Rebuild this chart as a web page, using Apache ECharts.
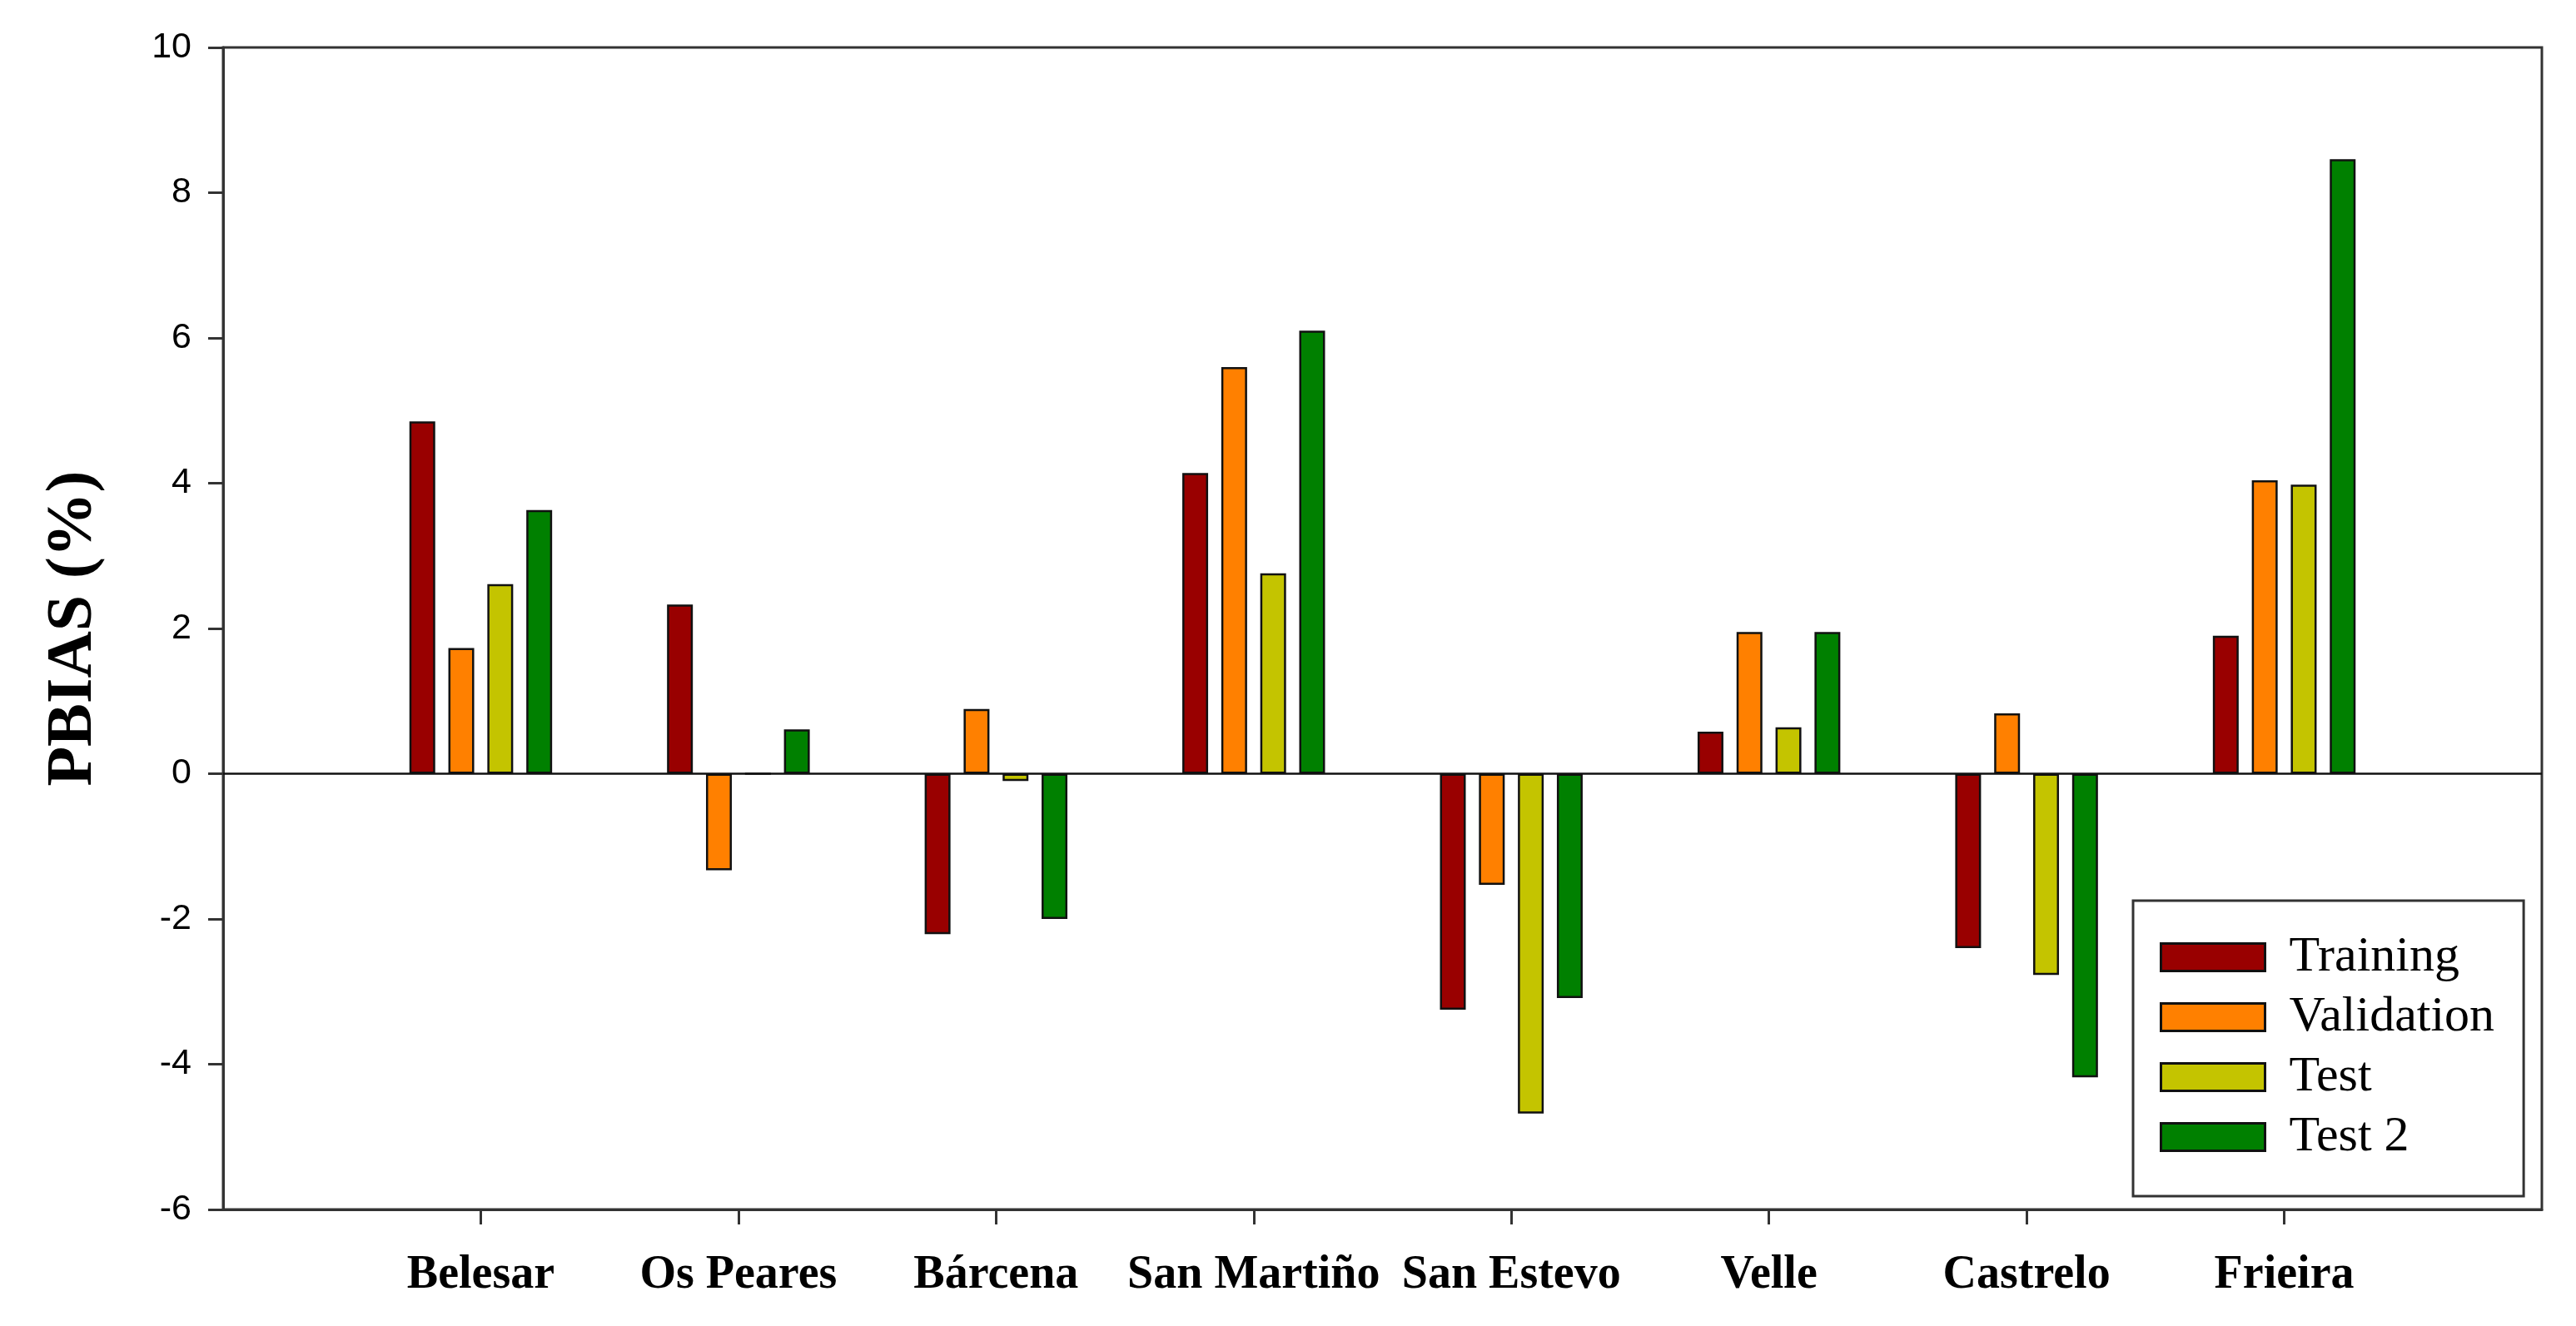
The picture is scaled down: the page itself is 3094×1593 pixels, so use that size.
<!DOCTYPE html>
<html>
<head>
<meta charset="utf-8">
<script src="https://cdn.jsdelivr.net/npm/echarts@6/dist/echarts.min.js"></script>
<style>
html,body{margin:0;padding:0;background:#fff;}
#chart{width:3094px;height:1593px;}
</style>
</head>
<body>
<div id="chart"></div>
<script>
const stations = ['Belesar', 'Os Peares', 'Bárcena', 'San Martiño', 'San Estevo', 'Velle', 'Castrelo', 'Frieira'];
const seriesNames = ['Training', 'Validation', 'Test', 'Test 2'];
const training   = [4.85, 2.33, -2.21, 4.14, -3.25, 0.58, -2.40, 1.90];
const validation = [1.73, -1.33, 0.89, 5.60, -1.53, 1.95, 0.83, 4.04];
const test       = [2.61, 0.00, -0.10, 2.76, -4.68, 0.64, -2.77, 3.98];
const test2      = [3.63, 0.61, -2.00, 6.10, -3.09, 1.95, -4.18, 8.46];
const yTicks = { min: -6, max: 10, interval: 2 };
const colors = ['#990000', '#FF8000', '#C4C400', '#008000'];

const pad = arr => [null].concat(arr, [null]);
const cats = [''].concat(stations, ['']);
const values = [training, validation, test, test2];

const chart = echarts.init(document.getElementById('chart'), null, { renderer: 'canvas' });
const series = values.map((v, i) => ({
  name: seriesNames[i],
  type: 'bar',
  data: pad(v),
  barWidth: 31,
  barGap: '51%',
  itemStyle: { color: colors[i], borderColor: '#111', borderWidth: 2.5 },
  emphasis: { disabled: true },
  markLine: i === 0 ? {
    silent: true,
    symbol: 'none',
    label: { show: false },
    lineStyle: { color: '#111', width: 2.5, type: 'solid' },
    data: [{ yAxis: 0 }]
  } : undefined
}));

chart.setOption({
  animation: false,
  backgroundColor: '#ffffff',
  grid: {
    left: 268, right: 41, top: 57, bottom: 140,
    show: true, borderColor: '#333', borderWidth: 3, backgroundColor: 'transparent'
  },
  legend: {
    orient: 'vertical',
    left: 2562,
    top: 1082,
    padding: [38, 35, 41, 32],
    itemWidth: 125,
    itemHeight: 33,
    itemGap: 12,
    icon: 'rect',
    borderColor: '#333',
    borderWidth: 3,
    backgroundColor: '#fff',
    itemStyle: { borderColor: '#111', borderWidth: 3 },
    textStyle: { fontFamily: 'Liberation Serif', fontSize: 60, color: '#000', padding: [0, 0, 0, 24] },
    data: seriesNames
  },
  xAxis: {
    type: 'category',
    data: cats,
    boundaryGap: false,
    axisLine: { onZero: false, lineStyle: { color: '#333', width: 3 } },
    axisTick: { show: true, length: 18, interval: (i, v) => v !== '', lineStyle: { color: '#333', width: 3 } },
    axisLabel: {
      interval: 0, margin: 52,
      fontFamily: 'Liberation Serif', fontWeight: 'bold', fontSize: 56, color: '#000'
    },
    splitLine: { show: false }
  },
  yAxis: {
    type: 'value',
    min: yTicks.min, max: yTicks.max, interval: yTicks.interval,
    name: 'PBIAS (%)',
    nameLocation: 'middle',
    nameRotate: 90,
    nameGap: 140,
    nameTextStyle: { fontFamily: 'Liberation Serif', fontWeight: 'bold', fontSize: 78, color: '#000' },
    axisLine: { show: true, lineStyle: { color: '#333', width: 3 } },
    axisTick: { show: true, length: 18, lineStyle: { color: '#333', width: 3 } },
    axisLabel: { margin: 38, fontFamily: 'Liberation Sans', fontSize: 43, color: '#000' },
    splitLine: { show: false }
  },
  series: series
});
</script>
</body>
</html>
